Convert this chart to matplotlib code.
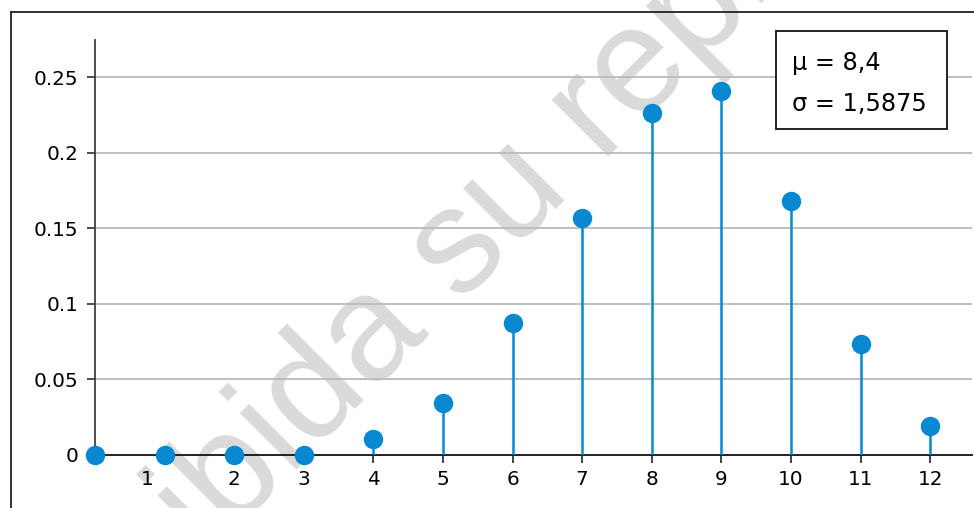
import matplotlib
matplotlib.use("Agg")
import matplotlib.pyplot as plt
import matplotlib.transforms as mtransforms
from matplotlib.patches import Rectangle
from matplotlib.lines import Line2D

# data
k_list = [0, 1, 2, 3, 4, 5, 6, 7, 8, 9, 10, 11, 12]
p_list = [0.0, 0.0, 0.0, 0.0, 0.0103, 0.0345, 0.0873, 0.157, 0.2262, 0.2411, 0.1685, 0.0736, 0.0191]

xtick_vals = [1, 2, 3, 4, 5, 6, 7, 8, 9, 10, 11, 12]
ytick_vals = [0, 0.05, 0.1, 0.15, 0.2, 0.25]
ytick_labels = ["0", "0.05", "0.1", "0.15", "0.2", "0.25"]

mu_text = "\u03bc = 8,4"
sigma_text = "\u03c3 = 1,5875"
watermark = "Prohibida su reproducci\u00f3n"

blue = "#0788d0"

plt.rcParams['font.family'] = 'DejaVu Sans'

W, H = 974, 508
fig = plt.figure(figsize=(W / 100, H / 100), dpi=100)

ax = fig.add_axes([95 / W, (H - 455) / H, (972 - 95) / W, (455 - 40) / H])
ax.patch.set_alpha(0)

# watermark behind everything
fig.text(570 / W, (H - 138) / H, watermark, fontsize=108, family='Liberation Sans',
         color='#dadada', rotation=45, rotation_mode='anchor',
         ha='center', va='center', zorder=-5)

# outer frame (only left and top visible)
fig.add_artist(Line2D([11 / W, 11 / W], [0, (H - 12) / H], color='#222222', lw=1.3))
fig.add_artist(Line2D([11 / W, 1], [(H - 12) / H, (H - 12) / H], color='#222222', lw=1.3))

ax.set_xlim(0, 12.6)
ax.set_ylim(0, 0.2748)

for y in ytick_vals[1:]:
    ax.axhline(y, color='#bababa', lw=1.3, zorder=1)

ax.vlines(k_list, 0, p_list, color=blue, lw=1.8, zorder=3)
ax.plot(k_list, p_list, 'o', color=blue, ms=14, mec='none', zorder=4, clip_on=False)

for s in ['top', 'right']:
    ax.spines[s].set_visible(False)
ax.spines['left'].set_color('#404040')
ax.spines['left'].set_linewidth(1.3)
ax.spines['bottom'].set_color('#111111')
ax.spines['bottom'].set_linewidth(1.3)
ax.spines['bottom'].set_zorder(2)

ax.set_yticks(ytick_vals)
ax.set_yticklabels(ytick_labels)
ax.set_xticks(xtick_vals)
ax.set_xticklabels([str(v) for v in xtick_vals])
ax.tick_params(axis='y', length=6, width=1.3, color='#404040', labelsize=14.4, pad=6)
ax.tick_params(axis='x', length=6, width=1.1, color='#111111', labelsize=14.4, pad=5)

# the "1" label sits left of its tick in the original
lab = ax.get_xticklabels()[0]
lab.set_transform(lab.get_transform() + mtransforms.ScaledTranslation(-17 / 100, 0, fig.dpi_scale_trans))

# stats box
fig.add_artist(Rectangle((776 / W, (H - 129) / H), (947 - 776) / W, (129 - 31) / H,
                         fill=True, facecolor='white', edgecolor='#111111', lw=1.3,
                         transform=fig.transFigure, zorder=5))
fig.text(792 / W, (H - 63) / H, mu_text, fontsize=17.3, ha='left', va='center', zorder=6)
fig.text(792 / W, (H - 104) / H, sigma_text, fontsize=17.3, ha='left', va='center', zorder=6)

plt.savefig("out.png", dpi=100)
